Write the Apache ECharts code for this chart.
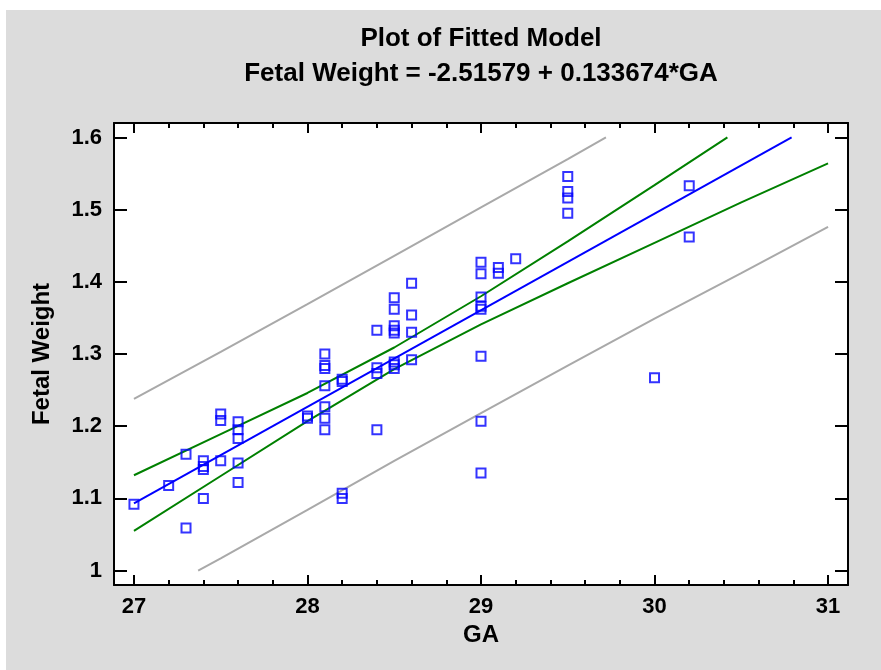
<!DOCTYPE html>
<html>
<head>
<meta charset="utf-8">
<script src="https://cdn.jsdelivr.net/npm/echarts@6/dist/echarts.min.js"></script>
<style>
  html, body { margin: 0; padding: 0; background: #ffffff; }
  #chart { position: absolute; left: 6px; top: 10px; width: 875px; height: 660px; background: #dcdcdc; }
</style>
</head>
<body>
<div id="chart"></div>
<script>
// observed points (GA, fetal weight)
const gaValues = [
  27, 27.2, 27.3, 27.3,
  27.4, 27.4, 27.4, 27.4,
  27.5, 27.5, 27.5,
  27.6, 27.6, 27.6, 27.6, 27.6,
  28, 28,
  28.1, 28.1, 28.1, 28.1, 28.1, 28.1, 28.1,
  28.2, 28.2, 28.2, 28.2,
  28.4, 28.4, 28.4, 28.4,
  28.5, 28.5, 28.5, 28.5, 28.5, 28.5, 28.5, 28.5,
  28.6, 28.6, 28.6, 28.6,
  29, 29, 29, 29, 29, 29, 29, 29,
  29.1, 29.1, 29.2,
  29.5, 29.5, 29.5, 29.5,
  30, 30.2, 30.2
];
const weightValues = [
  1.092, 1.118, 1.161, 1.059,
  1.152, 1.144, 1.140, 1.100,
  1.217, 1.208, 1.152,
  1.206, 1.195, 1.183, 1.149, 1.122,
  1.214, 1.211,
  1.300, 1.284, 1.280, 1.256, 1.227, 1.211, 1.195,
  1.265, 1.262, 1.107, 1.100,
  1.333, 1.281, 1.273, 1.195,
  1.378, 1.362, 1.339, 1.333, 1.329, 1.289, 1.285, 1.280,
  1.398, 1.354, 1.330, 1.292,
  1.427, 1.411, 1.379, 1.366, 1.362, 1.297, 1.207, 1.135,
  1.420, 1.412, 1.432,
  1.546, 1.525, 1.516, 1.495,
  1.267, 1.533, 1.462
];

// fitted line
const fitGA = [27, 30.79];
const fitWeight = [1.093, 1.600];

// confidence limits (green)
const upperConfGA = [27, 27.5, 28, 28.5, 29, 29.5, 30, 30.42];
const upperConfWeight = [1.132, 1.189, 1.246, 1.309, 1.380, 1.456, 1.534, 1.600];
const lowerConfGA = [27, 27.5, 28, 28.5, 29, 29.5, 30, 30.5, 31];
const lowerConfWeight = [1.055, 1.131, 1.207, 1.279, 1.341, 1.398, 1.454, 1.510, 1.564];

// prediction limits (grey)
const upperPredGA = [27, 27.5, 28, 28.5, 29, 29.5, 29.72];
const upperPredWeight = [1.238, 1.303, 1.369, 1.436, 1.503, 1.570, 1.600];
const lowerPredGA = [27.37, 27.5, 28, 28.5, 29, 29.5, 30, 30.5, 31];
const lowerPredWeight = [1.000, 1.017, 1.084, 1.152, 1.218, 1.284, 1.349, 1.412, 1.476];

// ticks
const xMajorTicks = [27, 28, 29, 30, 31];
const xMinorTicks = [27.2, 27.4, 27.6, 27.8, 28.2, 28.4, 28.6, 28.8, 29.2, 29.4, 29.6, 29.8, 30.2, 30.4, 30.6, 30.8];
const yMajorTicks = [1, 1.1, 1.2, 1.3, 1.4, 1.5, 1.6];

const titleLines = ['Plot of Fitted Model', 'Fetal Weight = -2.51579 + 0.133674*GA'];

const FONT = "'Liberation Sans', Arial, sans-serif";

function pairs(xs, ys) {
  return xs.map((x, i) => [x, ys[i]]);
}

function xAxisDef(position, ticks, len, showLine, withLabels) {
  return {
    type: 'value',
    position: position,
    min: 26.885,
    max: 31.115,
    axisLine: { show: showLine, onZero: false, lineStyle: { color: '#000', width: 2 } },
    axisTick: { show: true, inside: true, length: len, customValues: ticks, lineStyle: { color: '#000', width: 2 } },
    axisLabel: withLabels
      ? { show: true, customValues: xMajorTicks, margin: 11, color: '#000', fontSize: 22, fontWeight: 'bold', fontFamily: FONT }
      : { show: false },
    splitLine: { show: false },
    name: withLabels ? 'GA' : '',
    nameLocation: 'middle',
    nameGap: 38,
    nameTextStyle: { color: '#000', fontSize: 24, fontWeight: 'bold', fontFamily: FONT }
  };
}

function yAxisDef(position, withLabels) {
  return {
    type: 'value',
    position: position,
    min: 0.98,
    max: 1.62,
    axisLine: { show: true, onZero: false, lineStyle: { color: '#000', width: 2 } },
    axisTick: { show: true, inside: true, length: 13, customValues: yMajorTicks, lineStyle: { color: '#000', width: 2 } },
    axisLabel: withLabels
      ? { show: true, customValues: yMajorTicks, margin: 12, color: '#000', fontSize: 22, fontWeight: 'bold', fontFamily: FONT }
      : { show: false },
    splitLine: { show: false },
    name: withLabels ? 'Fetal Weight' : '',
    nameLocation: 'middle',
    nameGap: 60,
    nameTextStyle: { color: '#000', fontSize: 24, fontWeight: 'bold', fontFamily: FONT }
  };
}

function lineSeries(xs, ys, color, width) {
  return {
    type: 'line',
    xAxisIndex: 0,
    yAxisIndex: 0,
    data: pairs(xs, ys),
    showSymbol: false,
    symbol: 'none',
    silent: true,
    lineStyle: { color: color, width: width },
    z: 2
  };
}

const chart = echarts.init(document.getElementById('chart'), null, { renderer: 'canvas' });

chart.setOption({
  animation: false,
  backgroundColor: '#dcdcdc',
  // titles centred over the plot area, not the whole canvas
  graphic: [
    {
      type: 'text',
      x: 475,
      y: 29,
      style: { text: titleLines[0], align: 'center', verticalAlign: 'middle', fill: '#000', font: 'bold 26px ' + FONT }
    },
    {
      type: 'text',
      x: 475,
      y: 64,
      style: { text: titleLines[1], align: 'center', verticalAlign: 'middle', fill: '#000', font: 'bold 26px ' + FONT }
    }
  ],
  grid: {
    left: 108,
    top: 113,
    right: 33,
    bottom: 85,
    show: true,
    backgroundColor: '#ffffff',
    borderWidth: 0
  },
  xAxis: [
    xAxisDef('bottom', xMajorTicks, 10, true, true),
    xAxisDef('bottom', xMinorTicks, 5, false, false),
    xAxisDef('top', xMajorTicks, 10, true, false),
    xAxisDef('top', xMinorTicks, 5, false, false)
  ],
  yAxis: [
    yAxisDef('left', true),
    yAxisDef('right', false)
  ],
  series: [
    lineSeries(upperPredGA, upperPredWeight, '#a9a9a9', 2),
    lineSeries(lowerPredGA, lowerPredWeight, '#a9a9a9', 2),
    lineSeries(upperConfGA, upperConfWeight, '#008000', 2),
    lineSeries(lowerConfGA, lowerConfWeight, '#008000', 2),
    lineSeries(fitGA, fitWeight, '#0000ff', 2),
    {
      type: 'scatter',
      xAxisIndex: 0,
      yAxisIndex: 0,
      data: pairs(gaValues, weightValues),
      symbol: 'rect',
      symbolSize: 9,
      itemStyle: { color: 'rgba(0,0,0,0)', borderColor: '#0000ff', borderWidth: 2 },
      z: 3
    }
  ]
});
</script>
</body>
</html>
